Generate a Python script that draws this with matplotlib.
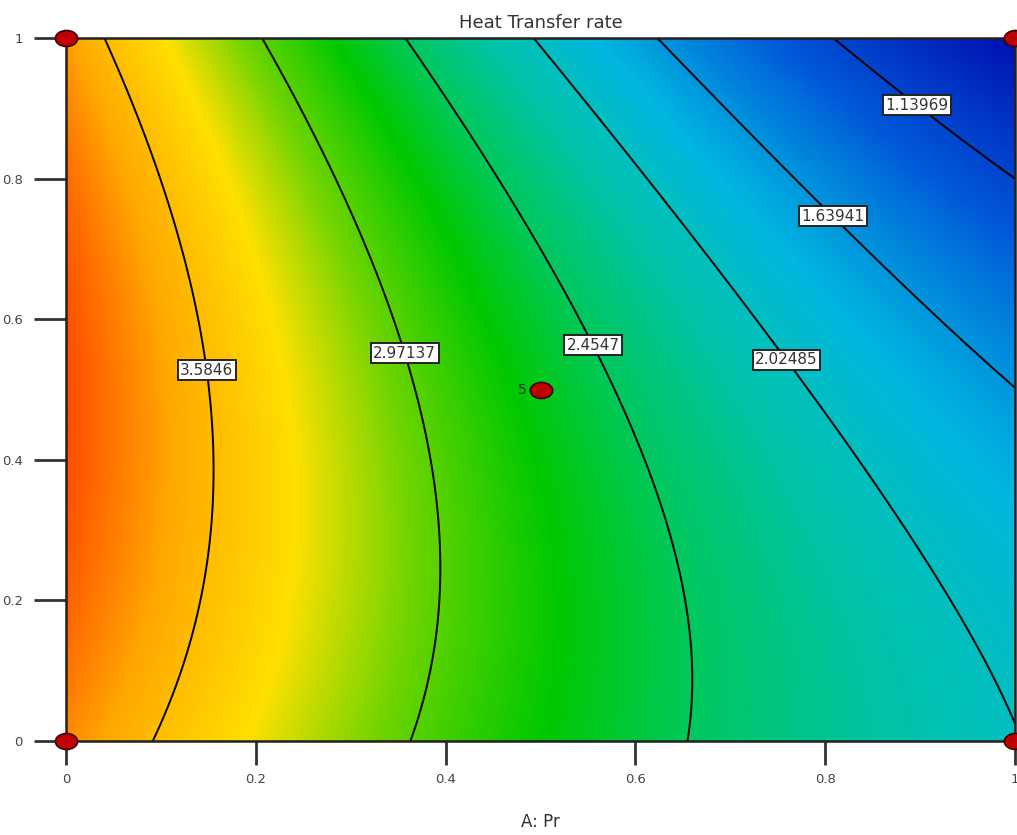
import numpy as np
import matplotlib.pyplot as plt
from matplotlib.colors import LinearSegmentedColormap
from matplotlib.path import Path

# contour levels drawn on the plot
levels = [1.13969, 1.63941, 2.02485, 2.4547, 2.97137, 3.5846]

# points on each contour line (A: Pr, B) and the level they belong to
cross_a = [0.039, 0.104, 0.136, 0.155, 0.141, 0.092,
           0.206, 0.359, 0.384, 0.391, 0.364,
           0.357, 0.552, 0.607, 0.647, 0.657,
           0.494, 0.587, 0.708, 0.745, 0.879, 0.949, 1.0,
           0.624, 0.734, 0.879, 1.0,
           0.808, 0.907, 1.0]
cross_b = [1.0, 0.8, 0.6, 0.40, 0.2, 0.0,
           1.0, 0.553, 0.414, 0.2, 0.0,
           1.0, 0.57, 0.414, 0.2, 0.0,
           1.0, 0.842, 0.627, 0.566, 0.343, 0.154, 0.015,
           1.0, 0.842, 0.651, 0.50,
           1.0, 0.898, 0.798]
cross_lvl = [3.5846] * 6 + [2.97137] * 5 + [2.4547] * 5 + [2.02485] * 7 + \
            [1.63941] * 4 + [1.13969] * 3

# design points and where the contour labels sit
design_a = [0, 0, 1, 1, 0.5]
design_b = [0, 1, 0, 1, 0.5]
label_pos = [(0.902, 0.913), (0.812, 0.752), (0.763, 0.546),
             (0.560, 0.566), (0.360, 0.553), (0.152, 0.528)]


def terms(a, b):
    return np.stack([np.ones_like(a), a, b, a * b, a**2, b**2,
                     a**2 * b, a * b**2, a**3, b**3], axis=-1)


# cubic response surface through the contour points
ca = np.array(cross_a)
cb = np.array(cross_b)
coef, *_ = np.linalg.lstsq(terms(ca, cb), np.array(cross_lvl), rcond=None)

g = np.linspace(0, 1, 401)
A, B = np.meshgrid(g, g)
Z = terms(A, B) @ coef

cmap = LinearSegmentedColormap.from_list("de", [
    (0.00, "#0010b0"), (0.18, "#0058d8"), (0.34, "#00b8e0"),
    (0.44, "#00c4a8"), (0.52, "#00c860"), (0.60, "#00c800"),
    (0.70, "#70d400"), (0.79, "#ffe000"), (0.90, "#ffa800"),
    (1.00, "#ff4e00")])

fig = plt.figure(figsize=(10.17, 8.35), dpi=100)
ax = fig.add_axes([66 / 1017, 1 - 741 / 835, 949 / 1017, 703 / 835])

ax.imshow(Z, extent=(0, 1, 0, 1), origin="lower", cmap=cmap,
          vmin=Z.min(), vmax=Z.max(), aspect="auto", interpolation="bilinear")
cs = ax.contour(A, B, Z, levels=levels, colors="black", linewidths=1.4)
fmt = {lv: f"{lv:g}" for lv in levels}
texts = ax.clabel(cs, levels=levels, fmt=fmt, manual=label_pos,
                  inline=False, fontsize=11, colors="#333333")
for t in texts:
    t.set_rotation(0)
    t.set_bbox(dict(facecolor="white", edgecolor="#222222", pad=1.8, linewidth=1.4))

# slightly flattened dot for the design points
circ = Path.unit_circle()
dot = Path(circ.vertices * [1, 0.72], circ.codes)
ax.plot(design_a, design_b, linestyle="none", marker=dot, ms=16, color="#c00000",
        mec="#400000", mew=1.2, clip_on=False, zorder=5)
ax.text(0.485, 0.5, "5", ha="right", va="center", fontsize=10, color="#333333")

ax.set_xlim(0, 1)
ax.set_ylim(0, 1)
ticks = [0, 0.2, 0.4, 0.6, 0.8, 1]
tick_labels = ["0", "0.2", "0.4", "0.6", "0.8", "1"]
ax.set_xticks(ticks, tick_labels)
ax.set_yticks(ticks, tick_labels)
ax.tick_params(axis="x", length=17, width=2, color="#333333", labelsize=9.5,
               labelcolor="#444444", pad=6)
ax.tick_params(axis="y", length=23, width=2, color="#333333", labelsize=9.5,
               labelcolor="#444444", pad=8)
for s in ax.spines.values():
    s.set_linewidth(1.8)
    s.set_color("#202020")

ax.set_title("Heat Transfer rate", fontsize=13, color="#333333", pad=7)
ax.set_xlabel("A: Pr", fontsize=12, color="#333333")
ax.xaxis.set_label_coords(0.5, -(822 - 741) / 703)
ax.xaxis.label.set_va("center")

fig.savefig("out.png", dpi=100)
